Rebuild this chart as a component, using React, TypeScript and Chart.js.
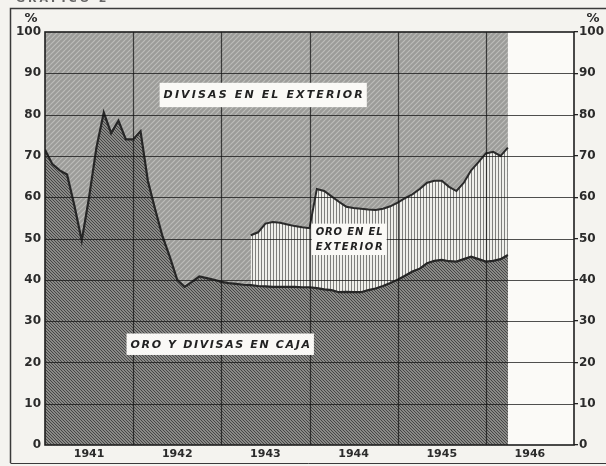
import React, { useEffect, useRef } from "react";
import { Chart, registerables } from "chart.js";

Chart.register(...registerables);

// ---- data -------------------------------------------------------------
const YEAR_LABELS = ["1941", "1942", "1943", "1944", "1945", "1946"];
const MONTHS_SHOWN = 72; // six years on the axis
const Y_MAX = 100;
const Y_STEP = 10;

// Oro y divisas en caja (% of total), monthly from January 1941
const CAJA = [
  71.5, 68, 66.5, 65.5, 58, 49.5, 60, 72, 80.5, 75.5, 78.5, 74,
  74, 76, 64, 57, 50.5, 45.5, 40, 38.3, 39.5, 40.8, 40.4, 40,
  39.5, 39.2, 39, 38.8, 38.7, 38.5, 38.4, 38.3, 38.3, 38.3, 38.3, 38.2,
  38.2, 38, 37.7, 37.5, 37, 37.1, 37, 37, 37.5, 37.9, 38.5, 39.2,
  40, 41, 42, 42.7, 44, 44.6, 44.8, 44.5, 44.4, 45, 45.6, 45,
  44.4, 44.6, 45, 46,
];

// Oro en el exterior (% of total), monthly, starting at month index below
const ORO_EXTERIOR_START = 28;
const ORO_EXTERIOR = [
  12.1, 13.0, 15.2, 15.7, 15.5, 15.1, 14.7, 14.5, 14.3, 24.0, 23.8, 22.7,
  21.9, 20.6, 20.4, 20.2, 19.5, 19.0, 18.7, 18.6, 18.7, 18.8, 18.7, 19.3,
  19.5, 19.4, 19.2, 18.0, 17.1, 18.5, 20.9, 23.5, 26.2, 26.4, 25.0, 26.0,
];

// Divisas en el exterior = remainder up to 100 %
const TOTAL = 100;

// ---- annotation layout (data units) -----------------------------------
const LABEL_DIVISAS = { text: ["DIVISAS EN EL EXTERIOR"], x0: 15.6, x1: 43.8, y0: 87.7, y1: 81.8, size: 11 };
const LABEL_ORO_EXT = { text: ["ORO EN EL", "EXTERIOR"], x0: 36.3, x1: 46.5, y0: 53.6, y1: 46.0, size: 10 };
const LABEL_CAJA = { text: ["ORO Y DIVISAS EN CAJA"], x0: 11.1, x1: 36.6, y0: 27.0, y1: 21.8, size: 11 };

const INK = "#2b2b2b";
const PAPER = "#f4f3ef";

function makePattern(kind: "caja" | "oro" | "divisas"): CanvasPattern | string {
  const c = document.createElement("canvas");
  const s = kind === "oro" ? 3 : kind === "caja" ? 6 : 10;
  c.width = s;
  c.height = s;
  const g = c.getContext("2d");
  if (!g) return "#888";
  if (kind === "caja") {
    g.fillStyle = "#8a8a87";
    g.fillRect(0, 0, s, s);
    g.strokeStyle = "#464646";
    g.lineWidth = 1;
    for (let k = -s; k <= s; k += 3) {
      g.beginPath();
      g.moveTo(k, 0);
      g.lineTo(k + s, s);
      g.stroke();
    }
  } else if (kind === "divisas") {
    g.fillStyle = "#9c9c99";
    g.fillRect(0, 0, s, s);
    g.strokeStyle = "#bdbdba";
    g.lineWidth = 1.1;
    for (let k = -s; k <= s; k += 5) {
      g.beginPath();
      g.moveTo(k, s);
      g.lineTo(k + s, 0);
      g.stroke();
    }
  } else {
    g.fillStyle = "#efefeb";
    g.fillRect(0, 0, s, s);
    g.fillStyle = "#7f7f7d";
    g.fillRect(0, 0, 1, s);
  }
  return g.createPattern(c, "repeat") || "#888";
}

function drawLabel(chart: any, lab: any) {
  const { ctx, scales } = chart;
  const xs = scales.x;
  const ys = scales.y;
  const l = xs.getPixelForValue(lab.x0);
  const r = xs.getPixelForValue(lab.x1);
  const t = ys.getPixelForValue(lab.y0);
  const b = ys.getPixelForValue(lab.y1);
  ctx.save();
  ctx.fillStyle = "#faf9f6";
  ctx.fillRect(l, t, r - l, b - t);
  ctx.fillStyle = "#222";
  ctx.font = `italic bold ${lab.size}px "DejaVu Sans"`;
  ctx.textAlign = "left";
  ctx.textBaseline = "middle";
  const n = lab.text.length;
  const lineH = (b - t) / n;
  const target = r - l - 8;
  lab.text.forEach((txt: string, i: number) => {
    (ctx as any).letterSpacing = "0px";
    const w0 = ctx.measureText(txt).width;
    const ls = Math.max(0, (target - w0) / Math.max(1, txt.length - 1));
    (ctx as any).letterSpacing = `${ls}px`;
    const total = w0 + ls * (txt.length - 1);
    ctx.fillText(txt, (l + r) / 2 - total / 2, t + lineH * (i + 0.5) + 0.5);
  });
  (ctx as any).letterSpacing = "0px";
  ctx.restore();
}

const decor = {
  id: "decor",
  beforeDraw(chart: any) {
    const { ctx, width, height } = chart;
    ctx.save();
    ctx.fillStyle = PAPER;
    ctx.fillRect(0, 0, width, height);
    ctx.strokeStyle = "#3a3a3a";
    ctx.lineWidth = 1.5;
    ctx.beginPath();
    ctx.moveTo(width, 8.5);
    ctx.lineTo(10.5, 8.5);
    ctx.lineTo(10.5, 463);
    ctx.stroke();
    ctx.lineWidth = 1;
    ctx.beginPath();
    ctx.moveTo(10.5, 463.5);
    ctx.lineTo(width, 463.5);
    ctx.stroke();
    ctx.fillStyle = "#666";
    ctx.font = 'bold 11px "DejaVu Sans"';
    (ctx as any).letterSpacing = "3px";
    ctx.textBaseline = "alphabetic";
    ctx.textAlign = "left";
    ctx.fillText("GRAFICO 2", 16, 2);
    (ctx as any).letterSpacing = "0px";
    ctx.fillStyle = INK;
    ctx.font = 'bold 13px "DejaVu Sans"';
    ctx.textAlign = "center";
    ctx.textBaseline = "middle";
    ctx.fillText("%", 31, 19);
    ctx.fillText("%", 593, 19);
    ctx.restore();
  },
  beforeDatasetsDraw(chart: any) {
    const { ctx, chartArea: a } = chart;
    ctx.save();
    ctx.fillStyle = "#fbfaf7";
    ctx.fillRect(a.left, a.top, a.right - a.left, a.bottom - a.top);
    ctx.restore();
  },
  afterDatasetsDraw(chart: any) {
    const { ctx, chartArea: a, scales } = chart;
    const xs = scales.x;
    const ys = scales.y;
    ctx.save();
    ctx.strokeStyle = "rgba(22,22,22,0.75)";
    ctx.lineWidth = 1.2;
    for (let v = Y_STEP; v < Y_MAX; v += Y_STEP) {
      const py = Math.round(ys.getPixelForValue(v)) + 0.5;
      ctx.beginPath();
      ctx.moveTo(a.left, py);
      ctx.lineTo(a.right, py);
      ctx.stroke();
    }
    for (let m = 12; m < MONTHS_SHOWN; m += 12) {
      const px = Math.round(xs.getPixelForValue(m)) + 0.5;
      ctx.beginPath();
      ctx.moveTo(px, a.top);
      ctx.lineTo(px, a.bottom);
      ctx.stroke();
    }
    ctx.strokeStyle = "#1e1e1e";
    ctx.lineWidth = 1.6;
    ctx.strokeRect(a.left, a.top, a.right - a.left, a.bottom - a.top);
    ctx.restore();
    drawLabel(chart, LABEL_DIVISAS);
    drawLabel(chart, LABEL_ORO_EXT);
    drawLabel(chart, LABEL_CAJA);
  },
};

export default function App() {
  const ref = useRef<HTMLCanvasElement>(null);

  useEffect(() => {
    document.body.style.margin = "0";
    document.body.style.background = PAPER;
    const canvas = ref.current;
    if (!canvas) return;

    const cajaPts = CAJA.map((v, i) => ({ x: i, y: v }));
    const oroPts = CAJA.map((v, i) => ({
      x: i,
      y: i >= ORO_EXTERIOR_START ? v + ORO_EXTERIOR[i - ORO_EXTERIOR_START] : null,
    }));
    const divPts = CAJA.map((_, i) => ({ x: i, y: TOTAL }));

    const tickFont = { family: '"DejaVu Sans"', weight: "bold" as const, size: 12 };

    const chart = new Chart(canvas, {
      type: "line",
      data: {
        datasets: [
          {
            label: "Oro y divisas en caja",
            data: cajaPts,
            fill: "origin",
            backgroundColor: makePattern("caja"),
            borderColor: "#262626",
            borderWidth: 2.2,
            pointRadius: 0,
            tension: 0,
          },
          {
            label: "Oro en el exterior",
            data: oroPts as any,
            fill: "origin",
            backgroundColor: makePattern("oro"),
            borderColor: "#2a2a2a",
            borderWidth: 2,
            pointRadius: 0,
            tension: 0,
            spanGaps: false,
          },
          {
            label: "Divisas en el exterior",
            data: divPts,
            fill: "origin",
            backgroundColor: makePattern("divisas"),
            borderWidth: 0,
            pointRadius: 0,
            tension: 0,
          },
        ],
      },
      options: {
        animation: false,
        responsive: false,
        devicePixelRatio: 1,
        layout: { padding: { top: 32, left: 0, right: 0, bottom: 0 } },
        plugins: { legend: { display: false }, tooltip: { enabled: false } },
        scales: {
          x: {
            type: "linear",
            min: 0,
            max: MONTHS_SHOWN,
            grid: { display: false, drawTicks: false },
            border: { display: false },
            ticks: {
              stepSize: 6,
              autoSkip: false,
              maxRotation: 0,
              padding: 3,
              color: INK,
              font: { family: '"DejaVu Sans"', weight: "bold", size: 11 },
              callback: (v: any) => {
                const n = Number(v);
                return n % 12 === 6 ? YEAR_LABELS[(n - 6) / 12] : "";
              },
            },
            afterFit: (s: any) => {
              s.height = 21;
            },
          },
          y: {
            position: "left",
            min: 0,
            max: Y_MAX,
            grid: { display: false, drawTicks: false },
            border: { display: false },
            ticks: { stepSize: Y_STEP, padding: 4, color: INK, font: tickFont },
            afterFit: (s: any) => {
              s.width = 45;
            },
          },
          y2: {
            position: "right",
            min: 0,
            max: Y_MAX,
            grid: { drawOnChartArea: false, drawTicks: true, tickLength: 4, color: "#222", lineWidth: 1.3 },
            border: { display: false },
            ticks: { stepSize: Y_STEP, padding: 1, color: INK, font: tickFont },
            afterFit: (s: any) => {
              s.width = 32;
            },
          },
        },
      } as any,
      plugins: [decor],
    });

    return () => chart.destroy();
  }, []);

  return (
    <div style={{ width: 606, height: 466, position: "relative" }}>
      <canvas ref={ref} width={606} height={466} style={{ display: "block" }} />
    </div>
  );
}
